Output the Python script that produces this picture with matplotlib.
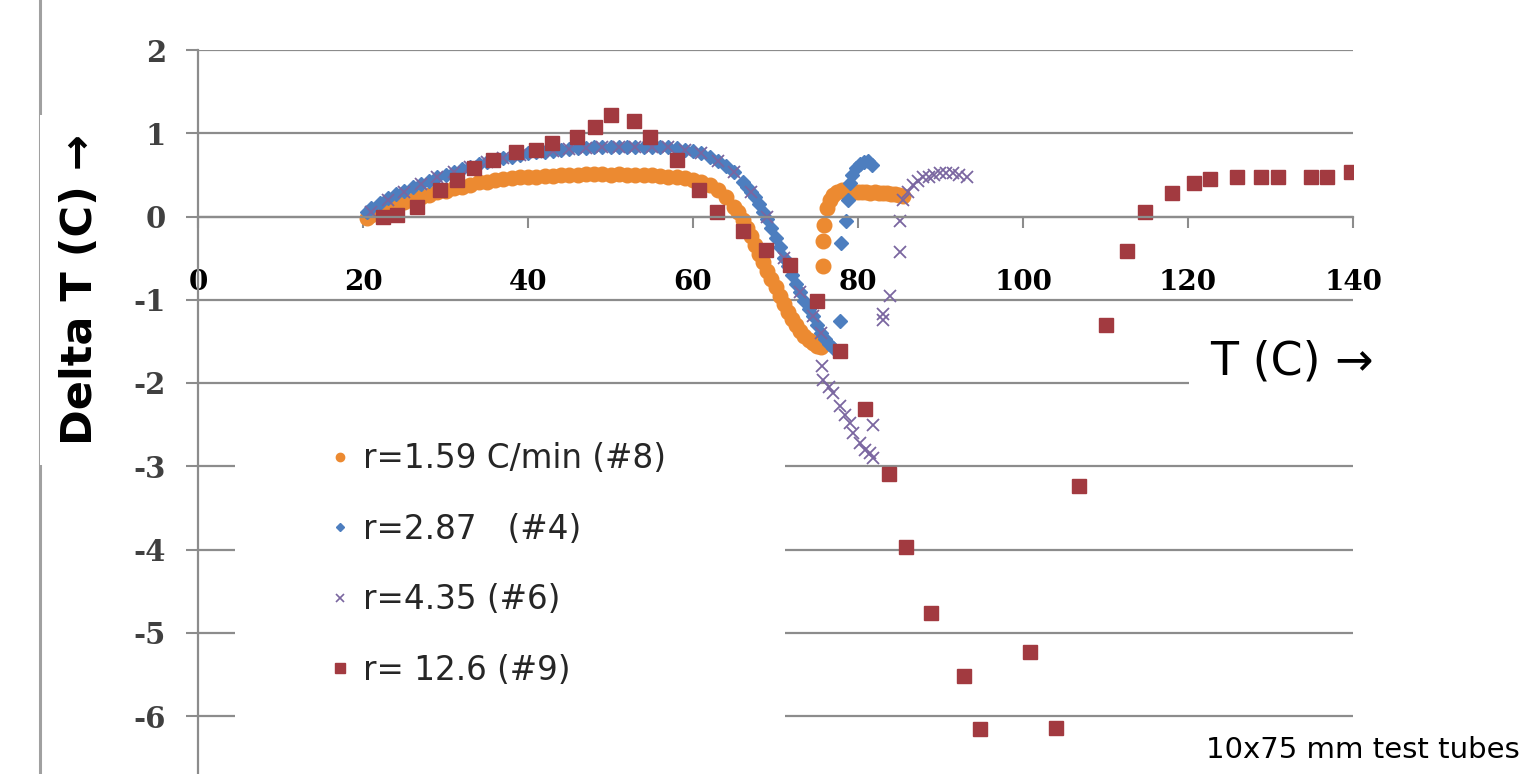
import numpy as np
import matplotlib
matplotlib.use("Agg")
from matplotlib import pyplot as plt
from matplotlib.patches import Rectangle
from matplotlib.lines import Line2D

# r=1.59 C/min (#8)
t8 = [20.5, 21, 22, 23, 24, 25, 26, 27, 28, 29, 30, 31, 32, 33, 34, 35, 36, 37, 38, 39,
      40, 41, 42, 43, 44, 45, 46, 47, 48, 49, 50, 51, 52, 53, 54, 55, 56, 57, 58, 59,
      60, 61, 62, 63, 64, 65, 65.5, 66, 66.5, 67, 67.5, 68, 68.5, 69, 69.5, 70, 70.5,
      71, 71.5, 72, 72.5, 73, 73.5, 74, 74.5, 75, 75.5,
      75.8, 75.8, 75.9, 76.3, 76.6, 77, 77.5, 78, 78.5, 79, 79.5, 80, 80.5, 81, 81.5,
      82, 82.5, 83, 83.5, 84, 84.5, 85, 85.5]
d8 = [-0.02, 0.02, 0.06, 0.1, 0.14, 0.17, 0.2, 0.23, 0.26, 0.29, 0.31, 0.34, 0.36, 0.38,
      0.41, 0.42, 0.44, 0.45, 0.46, 0.47, 0.48, 0.48, 0.49, 0.49, 0.5, 0.5, 0.5, 0.51,
      0.51, 0.51, 0.5, 0.51, 0.5, 0.5, 0.5, 0.5, 0.49, 0.48, 0.47, 0.46, 0.44, 0.42,
      0.38, 0.32, 0.24, 0.12, 0.05, -0.04, -0.14, -0.24, -0.34, -0.45, -0.55, -0.65,
      -0.75, -0.85, -0.95, -1.05, -1.15, -1.23, -1.3, -1.37, -1.43, -1.48, -1.52,
      -1.55, -1.57,
      -0.6, -0.3, -0.1, 0.1, 0.2, 0.26, 0.3, 0.32, 0.3, 0.3, 0.29, 0.3, 0.29, 0.29, 0.28,
      0.29, 0.28, 0.28, 0.28, 0.27, 0.27, 0.26, 0.25]

# r=2.87 (#4)
t4 = [20.5, 21, 22, 23, 24, 25, 26, 27, 28, 29, 30, 31, 32, 33, 34, 35, 36, 37, 38, 39,
      40, 41, 42, 43, 44, 45, 46, 47, 48, 49, 50, 51, 52, 53, 54, 55, 56, 57, 58, 59,
      60, 61, 62, 63, 64, 65, 66, 66.5, 67, 67.5, 68, 68.5, 69, 69.5, 70, 70.5, 71,
      71.5, 72, 72.5, 73, 73.5, 74, 74.5, 75, 75.5, 76, 76.5, 77,
      77.8, 77.9, 78.6, 78.8, 79, 79.3, 79.7, 80.2, 80.7, 81.2, 81.7]
d4 = [0.06, 0.1, 0.16, 0.22, 0.27, 0.31, 0.35, 0.39, 0.43, 0.47, 0.5, 0.54, 0.57, 0.6,
      0.63, 0.66, 0.68, 0.7, 0.72, 0.74, 0.76, 0.77, 0.78, 0.79, 0.8, 0.81, 0.82, 0.82,
      0.83, 0.83, 0.84, 0.84, 0.84, 0.84, 0.84, 0.84, 0.83, 0.83, 0.82, 0.8, 0.79, 0.76,
      0.72, 0.67, 0.61, 0.54, 0.42, 0.35, 0.3, 0.23, 0.15, 0.06, -0.03, -0.14, -0.26,
      -0.37, -0.5, -0.6, -0.7, -0.81, -0.91, -1.01, -1.11, -1.2, -1.3, -1.4, -1.47,
      -1.53, -1.58,
      -1.25, -0.32, -0.05, 0.2, 0.4, 0.5, 0.58, 0.63, 0.66, 0.67, 0.62]

# r=4.35 (#6)
t6 = [21, 23, 25, 27, 29, 31, 33, 35, 37, 39, 41, 43, 45, 47, 49, 51, 53, 55, 57, 59,
      61, 63, 65, 67, 69, 71, 73, 74.5, 75.5,
      75.6, 75.8, 76.5, 77, 77.8, 78.4, 79, 79.4, 80.2, 80.8, 81.5, 81.8, 81.8,
      83, 83, 83.9, 85.1, 85.1, 85.5, 86, 86.7, 87.3, 87.9, 88.6, 89.2, 89.9, 90.7,
      91.5, 92.3, 93.2]
d6 = [0.06, 0.2, 0.3, 0.39, 0.47, 0.54, 0.6, 0.66, 0.7, 0.74, 0.77, 0.79, 0.81, 0.82,
      0.83, 0.84, 0.84, 0.84, 0.83, 0.8, 0.76, 0.67, 0.54, 0.3, 0.0, -0.5, -0.91,
      -1.2, -1.4,
      -1.8, -1.96, -2.05, -2.12, -2.28, -2.38, -2.48, -2.6, -2.72, -2.8, -2.84, -2.9,
      -2.5, -1.24, -1.17, -0.95, -0.43, -0.05, 0.2, 0.3, 0.38, 0.43, 0.47, 0.48, 0.5,
      0.52, 0.52, 0.52, 0.5, 0.48]

# r= 12.6 (#9)
t9 = [22.4, 24.1, 26.5, 29.3, 31.4, 33.4, 35.8, 38.6, 41, 42.9, 45.9, 48.1, 50.1, 52.8,
      54.8, 58, 60.7, 62.9, 66.1, 68.8, 71.8, 75, 77.8, 80.8, 83.8, 85.8, 88.9, 92.8,
      94.8, 100.8, 104, 106.8, 110, 112.6, 114.8, 118, 120.7, 122.7, 125.9, 128.9,
      130.9, 134.9, 136.9, 139.8]
d9 = [-0.01, 0.02, 0.12, 0.32, 0.44, 0.58, 0.68, 0.78, 0.8, 0.88, 0.96, 1.08, 1.22, 1.15,
      0.96, 0.68, 0.32, 0.06, -0.18, -0.4, -0.58, -1.02, -1.62, -2.31, -3.09, -3.97,
      -4.76, -5.52, -6.16, -5.23, -6.14, -3.24, -1.3, -0.42, 0.06, 0.28, 0.4, 0.45, 0.48,
      0.48, 0.48, 0.48, 0.48, 0.54]

labels = ["r=1.59 C/min (#8)", "r=2.87   (#4)", "r=4.35 (#6)", "r= 12.6 (#9)"]
xticks = [0, 20, 40, 60, 80, 100, 120, 140]
yticks = [2, 1, 0, -1, -2, -3, -4, -5, -6]

c_or = "#EC8A31"
c_bl = "#4D7EBF"
c_pu = "#7A66A0"
c_rd = "#A23A40"
grid_c = "#8C8C8C"

W, H = 1524, 774
fig = plt.figure(figsize=(W / 100, H / 100), dpi=100)
ax = fig.add_axes([198 / W, 0, (1353 - 198) / W, (H - 50) / H])

for s in ["top", "right"]:
    ax.spines[s].set_visible(False)
ax.spines["bottom"].set_position(("data", 0))
ax.spines["left"].set_color(grid_c)
ax.spines["left"].set_linewidth(1.6)
ax.spines["bottom"].set_color(grid_c)
ax.spines["bottom"].set_linewidth(1.6)

ax.plot(t8, d8, ls="none", marker="o", ms=10.5, color=c_or, mec=c_or)
ax.plot(t4, d4, ls="none", marker="D", ms=7.5, color=c_bl, mec=c_bl)
ax.plot(t6, d6, ls="none", marker="x", ms=9, mew=1.3, color=c_pu)
ax.plot(t9, d9, ls="none", marker="s", ms=9.5, color=c_rd, mec=c_rd)

ax.set_xlim(0, 140)
ax.set_ylim(2 - 724 / 83.25, 2)
ax.set_xticks(xticks)
ax.set_yticks(yticks)
ax.set_xticklabels([str(v) for v in xticks], fontfamily="DejaVu Serif",
                   fontweight="bold", fontsize=20, color="black")
ax.set_yticklabels([str(v) for v in yticks], fontfamily="DejaVu Serif",
                   fontweight="bold", fontsize=21, color="#404040")
ax.yaxis.grid(True, color=grid_c, lw=1.6)
ax.set_axisbelow(True)
ax.tick_params(axis="x", direction="out", length=8, width=1.5, color=grid_c, pad=30)
ax.tick_params(axis="y", direction="out", length=9, width=1.5, color=grid_c, pad=14)

# white block behind the legend
ax.add_patch(Rectangle(((235 - 198) / (1353 - 198), (774 - 730) / 724),
                       (785 - 235) / (1353 - 198), (730 - 400) / 724,
                       transform=ax.transAxes, facecolor="white", edgecolor="none",
                       zorder=1))

handles = [
    Line2D([], [], ls="none", marker="o", ms=6, color=c_or),
    Line2D([], [], ls="none", marker="D", ms=4.5, color=c_bl),
    Line2D([], [], ls="none", marker="x", ms=6, mew=1.2, color=c_pu),
    Line2D([], [], ls="none", marker="s", ms=7, color=c_rd),
]
leg = fig.legend(handles, labels, loc="upper left",
                 bbox_to_anchor=(327 / W, 1 - 442 / H), frameon=False,
                 prop={"family": "DejaVu Sans", "size": 23.5},
                 handlelength=0.8, handletextpad=0.3, labelspacing=1.15,
                 borderpad=0, borderaxespad=0)
for t in leg.get_texts():
    t.set_color("#262626")

# left border line behind y label
fig.add_artist(Line2D([40 / W, 40 / W], [0, 1], color="#A0A0A0", lw=2.2))
fig.text(80 / W, 1 - 290 / H, "Delta T (C) \u2192", rotation=90, ha="center",
         va="center", fontsize=31, fontweight="bold", family="DejaVu Sans",
         bbox=dict(boxstyle="square,pad=0.45", facecolor="white", edgecolor="none"))

fig.text(1210 / W, 1 - 362 / H, "T (C) \u2192", ha="left", va="center",
         fontsize=33, family="DejaVu Sans",
         bbox=dict(boxstyle="square,pad=0.45", facecolor="white", edgecolor="none"))

fig.text(1520 / W, 1 - 750 / H, "10x75 mm test tubes", ha="right", va="center",
         fontsize=21, family="DejaVu Sans")

fig.savefig("out.png", dpi=100)
